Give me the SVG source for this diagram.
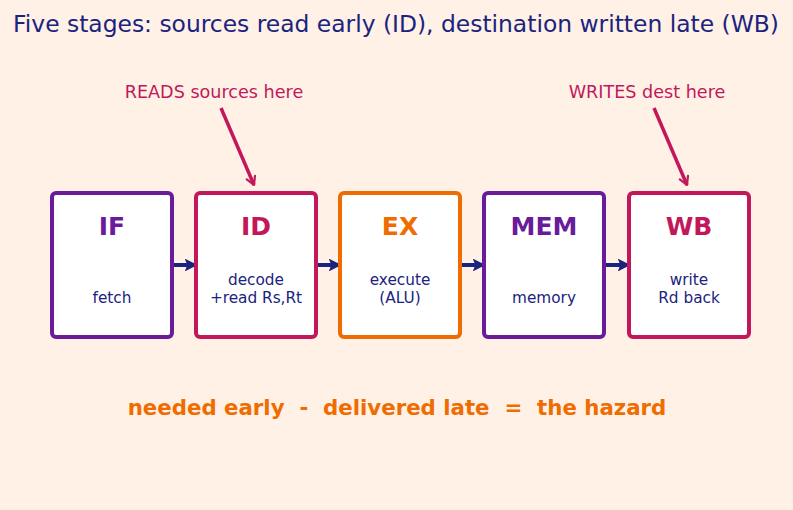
<svg xmlns="http://www.w3.org/2000/svg" width="793" height="510" viewBox="0 0 793 510">
<style>
.box{fill:#fff;stroke-width:4}
.hd{font-family:"DejaVu Sans",sans-serif;font-weight:bold;font-size:25px;text-anchor:middle}
.sub{font-family:"DejaVu Sans",sans-serif;font-size:15.3px;fill:#1a237e;text-anchor:middle}
.ann{font-family:"DejaVu Sans",sans-serif;font-size:17.6px;fill:#c2185b;text-anchor:middle}
.flow{stroke:#1a237e;stroke-width:4;fill:none;marker-end:url(#an)}
.pt{stroke:#c2185b;stroke-width:3.5;fill:none;marker-end:url(#ap)}
</style>
<defs>
<marker id="an" viewBox="0 0 10 10" refX="8" refY="5" markerWidth="3.2" markerHeight="3.2" orient="auto" markerUnits="strokeWidth"><path d="M0,0 L10,5 L0,10 L2,5 Z" fill="#1a237e"/></marker>
<marker id="ap" viewBox="0 0 12 12" refX="10" refY="6" markerWidth="3.4" markerHeight="3.4" orient="auto" markerUnits="strokeWidth"><path d="M2,1.5 L10,6 L2,10.5" fill="none" stroke="#c2185b" stroke-width="2.2" stroke-linecap="round" stroke-linejoin="round"/></marker>
</defs>
<rect width="793" height="510" fill="#fff1e6"/>
<text x="396" y="32" font-family="DejaVu Sans,sans-serif" font-size="23.4" fill="#1a237e" text-anchor="middle">Five stages: sources read early (ID), destination written late (WB)</text>
<g id="connectors">
<line class="flow" x1="172" y1="265" x2="195" y2="265"/>
<line class="flow" x1="316" y1="265" x2="339" y2="265"/>
<line class="flow" x1="460" y1="265" x2="483" y2="265"/>
<line class="flow" x1="604" y1="265" x2="628" y2="265"/>
<line class="pt" x1="221" y1="108" x2="254" y2="185"/>
<line class="pt" x1="654" y1="108" x2="687" y2="185"/>
</g>
<g id="IF"><rect class="box" x="52" y="193" width="120" height="144" rx="4" stroke="#6a1b9a"/><text class="hd" x="112" y="235" fill="#6a1b9a">IF</text><text class="sub" x="112" y="303">fetch</text></g>
<g id="ID"><rect class="box" x="196" y="193" width="120" height="144" rx="4" stroke="#c2185b"/><text class="hd" x="256" y="235" fill="#c2185b">ID</text><text class="sub" x="256" y="285">decode</text><text class="sub" x="256" y="303">+read Rs,Rt</text></g>
<g id="EX"><rect class="box" x="340" y="193" width="120" height="144" rx="4" stroke="#ef6c00"/><text class="hd" x="400" y="235" fill="#ef6c00">EX</text><text class="sub" x="400" y="285">execute</text><text class="sub" x="400" y="303">(ALU)</text></g>
<g id="MEM"><rect class="box" x="484" y="193" width="120" height="144" rx="4" stroke="#6a1b9a"/><text class="hd" x="544" y="235" fill="#6a1b9a">MEM</text><text class="sub" x="544" y="303">memory</text></g>
<g id="WB"><rect class="box" x="629" y="193" width="120" height="144" rx="4" stroke="#c2185b"/><text class="hd" x="689" y="235" fill="#c2185b">WB</text><text class="sub" x="689" y="285">write</text><text class="sub" x="689" y="303">Rd back</text></g>
<g id="ann-reads"><text class="ann" x="214" y="98">READS sources here</text></g>
<g id="ann-writes"><text class="ann" x="647" y="98">WRITES dest here</text></g>
<text x="397" y="415" font-family="DejaVu Sans,sans-serif" font-size="21.3" font-weight="bold" fill="#ef6c00" text-anchor="middle" xml:space="preserve">needed early  -  delivered late  =  the hazard</text>
</svg>
